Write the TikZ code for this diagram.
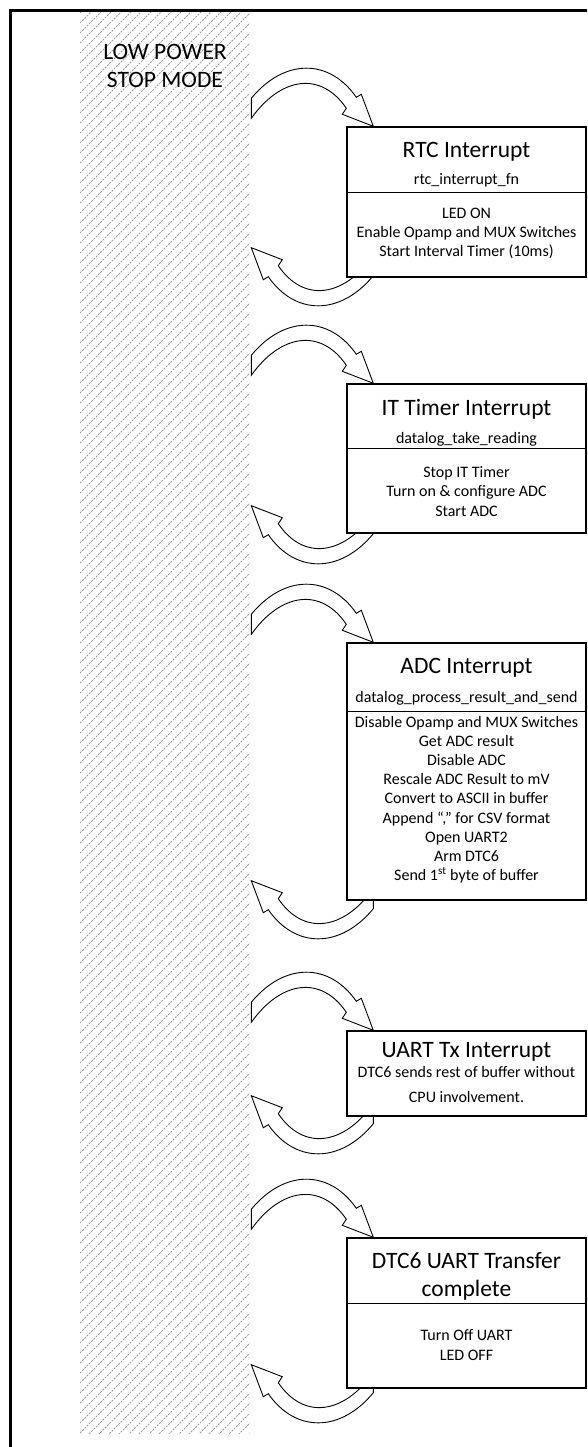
\documentclass[tikz,border=0pt]{standalone}
\usepackage{fontspec}
\setmainfont{Carlito}
\usetikzlibrary{calc,backgrounds}

\tikzset{
  frame/.style={line width=3pt},
  hatch/.style={black!38, line width=0.9pt, dash pattern=on 2pt off 1.2pt},
  box/.style={draw, line width=1.4pt, fill=white, minimum width=239pt, inner sep=0pt},
  divider/.style={line width=1.4pt},
  wake/.style={draw, line width=0.9pt, fill=white},
  % multi-line texts sit on the baseline of their last line
  title/.style={anchor=base, align=center, font=\fontsize{23.5}{28}\selectfont},
  body/.style={anchor=base, align=center, font=\fontsize{16}{19.2}\selectfont},
  curved arrow/.pic={
    \draw[wake] (-95,-28) .. controls (-62,-68) and (-17,-68) .. (10,-29)
      -- (15,-32) -- (27,0) -- (-4,-12) -- (0,-18)
      .. controls (-25,-55) and (-65,-50) .. (-95,-8) -- cycle;
  },
}

\begin{document}
\begin{tikzpicture}[x=1pt, y=-1pt]
  \useasboundingbox (0,0) rectangle (587,1447);

  % Low power stop mode label
  \node[title] (lowpower) at (165,88) {LOW POWER\\STOP MODE};

  % RTC interrupt
  \node[box, minimum height=150pt] (rtcbox) at (466.5,202) {};
  \node[title] (rtctitle) at (466.5,158) {RTC Interrupt};
  \node[body] (rtcfn) at (466.5,185) {rtc\_interrupt\_fn};
  \draw[divider] ($(rtcbox.north west)+(0,66)$) -- ($(rtcbox.north east)+(0,66)$);
  \node[body] (rtcbody) at (466.5,257) {LED ON\\Enable Opamp and MUX Switches\\Start Interval Timer (10ms)};

  % IT timer interrupt
  \node[box, minimum height=149pt] (ittbox) at (466.5,458.5) {};
  \node[title] (itttitle) at (466.5,415) {IT Timer Interrupt};
  \node[body] (ittfn) at (466.5,443) {datalog\_take\_reading};
  \draw[divider] ($(ittbox.north west)+(0,65)$) -- ($(ittbox.north east)+(0,65)$);
  \node[body] (ittbody) at (466.5,516) {Stop IT Timer\\Turn on \& configure ADC\\Start ADC};

  % ADC interrupt
  \node[box, minimum height=257pt] (adcbox) at (466.5,771.5) {};
  \node[title] (adctitle) at (466.5,673) {ADC Interrupt};
  \node[body] (adcfn) at (466.5,702) {datalog\_process\_result\_and\_send};
  \draw[divider] ($(adcbox.north west)+(0,69)$) -- ($(adcbox.north east)+(0,69)$);
  \node[body] (adcbody) at (466.5,880.6) {Disable Opamp and MUX Switches\\Get ADC result\\Disable ADC\\
    Rescale ADC Result to mV\\Convert to ASCII in buffer\\Append “,” for CSV format\\
    Open UART2\\Arm DTC6\\Send 1\textsuperscript{st} byte of buffer};

  % UART Tx interrupt
  \node[box, minimum height=85pt] (uartbox) at (466.5,1073.5) {};
  \node[title] (uarttitle) at (466.5,1057) {UART Tx Interrupt};
  \node[body] (uartbody) at (466.5,1102) {DTC6 sends rest of buffer without\\[5.8pt]CPU involvement.};

  % DTC6 transfer complete
  \node[box, minimum height=150pt] (dtcbox) at (466.5,1313) {};
  \node[title] (dtctitle) at (466.5,1296) {DTC6 UART Transfer\\complete};
  \draw[divider] ($(dtcbox.north west)+(0,66)$) -- ($(dtcbox.north east)+(0,66)$);
  \node[body] (dtcbody) at (466.5,1360) {Turn Off UART\\LED OFF};

  % Frame
  \begin{scope}
    \clip (0,0) rectangle (587,1447);
    \draw[frame] (10,1460) |- (600,10.7);
  \end{scope}

  \begin{pgfonlayer}{background}
    \fill[white] (0,0) rectangle (587,1447);
    % Hatched stop mode strip
    \begin{scope}
      \clip (80,13) rectangle (250,1433);
      \foreach \k in {0,...,162}
        \draw[hatch] (80,{13+10*\k}) -- ++(170,-170);
    \end{scope}
    % Wake up and return arrows
    \foreach \b/\r in {rtcbox/-30,ittbox/-28,adcbox/-20,uartbox/-21,dtcbox/-24} {
      \pic at (\b.north west) {curved arrow};
      \pic[rotate=180] at ($(\b.south west)+(-68,\r)$) {curved arrow};
    }
  \end{pgfonlayer}
\end{tikzpicture}
\end{document}
